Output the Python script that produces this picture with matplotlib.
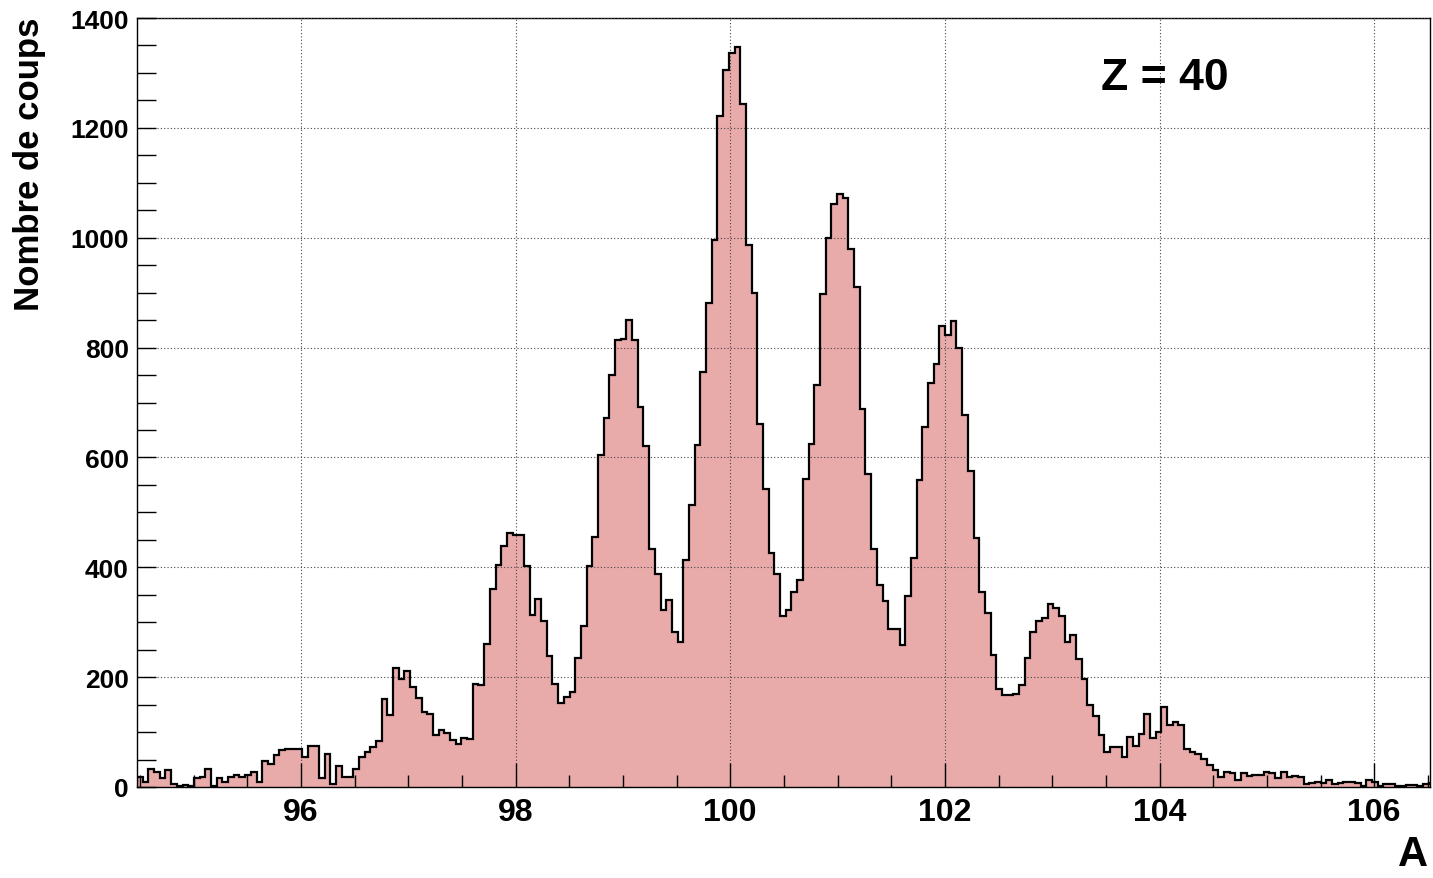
import numpy as np
import matplotlib.pyplot as plt
from matplotlib.ticker import MultipleLocator

# histogram binning (A axis)
x_start = 94.4735
bin_width = 0.05302
x_end = 106.52

# bin contents, left to right
counts = [
    18, 10, 33, 27, 16, 31, 5, 2, 4, 2, 16, 18, 33, 1, 16, 10, 18, 22, 18, 22,
    28, 10, 48, 42, 58, 67, 70, 69, 69, 55, 75, 75, 16,
    60, 6, 38, 18, 18, 33, 55, 64, 73, 84, 161, 131, 217, 196, 211, 182, 162,
    137, 132, 94, 104, 98, 85, 78, 90, 88, 187, 185, 261, 361, 404,
    438, 463, 459, 458, 402, 314, 343, 303, 238, 187, 153, 164, 173, 234, 293,
    402, 456, 604, 672, 750, 814, 815, 850, 814, 691, 621, 433, 387, 322, 341,
    282, 264, 414, 513, 622, 756,
    882, 995, 1222, 1305, 1336, 1347, 1243, 987, 899,
    661, 543, 426, 387, 311, 323, 355, 376, 561, 624,
    731, 898, 1000, 1061, 1079, 1073, 979, 911, 688, 570, 433, 367, 339, 287,
    288, 259, 348, 417, 558, 656, 735, 770, 840, 822, 849, 799, 677, 576,
    453, 355, 317, 241, 178, 167, 167, 170, 185, 235, 282, 303, 307, 334, 325,
    312, 264, 276, 233,
    197, 149, 129, 95, 64, 72, 73, 55, 91, 75, 96, 133, 90, 100, 145, 112, 118,
    112, 70, 64, 60, 51, 40, 31, 18,
    27, 25, 13, 26, 20, 21, 21, 27, 25, 17, 27, 18, 20, 18, 6, 8, 9, 8, 12, 6,
    8, 10, 9, 8, 2, 13, 9, 2, 5, 6, 2, 1, 3, 3, 2, 5, 7,
]
x_ticks = [96, 98, 100, 102, 104, 106]
y_ticks = [0, 200, 400, 600, 800, 1000, 1200, 1400]

plt.rcParams["font.family"] = ["Liberation Sans", "DejaVu Sans"]
plt.rcParams["font.weight"] = "bold"

edges = x_start + bin_width * np.arange(len(counts) + 1)

fig = plt.figure(figsize=(14.33, 8.79), dpi=100)
ax = fig.add_axes([137 / 1433, 1 - 788 / 879, (1430 - 137) / 1433, (788 - 19) / 879])

# filled histogram + black outline
ax.stairs(counts, edges, fill=True, color="#E9AAAA", linewidth=0, zorder=1)
ax.stairs(counts, edges, color="black", linewidth=1.6, zorder=3)

ax.set_xlim(x_start, x_end)
ax.set_ylim(0, 1400)
ax.set_xticks(x_ticks)
ax.set_yticks(y_ticks)
ax.xaxis.set_minor_locator(MultipleLocator(0.5))
ax.yaxis.set_minor_locator(MultipleLocator(50))

ax.grid(True, which="major", color="#444444", linestyle=(0, (1, 2)), linewidth=0.8, zorder=2)
ax.set_axisbelow(False)

ax.tick_params(axis="x", which="major", direction="in", length=17, width=1, labelsize=23, pad=7)
ax.tick_params(axis="x", which="minor", direction="in", length=8.5, width=1)
ax.tick_params(axis="y", which="major", direction="in", length=14, width=1, labelsize=19, pad=6)
ax.tick_params(axis="y", which="minor", direction="in", length=14, width=1)
for lab in ax.get_xticklabels() + ax.get_yticklabels():
    lab.set_fontweight("bold")

for sp in ax.spines.values():
    sp.set_linewidth(1.0)

fig.text(30 / 1433, 1 - 18 / 879, "Nombre de coups", rotation=90, ha="center", va="top",
         fontsize=25, fontweight="bold")
fig.text(1428 / 1433, 1 - 875 / 879, "A", ha="right", va="bottom", fontsize=30, fontweight="bold")
fig.text(1165 / 1433, 1 - 78 / 879, "Z = 40", ha="center", va="center", fontsize=32, fontweight="bold")

plt.savefig("out.png", dpi=100)
